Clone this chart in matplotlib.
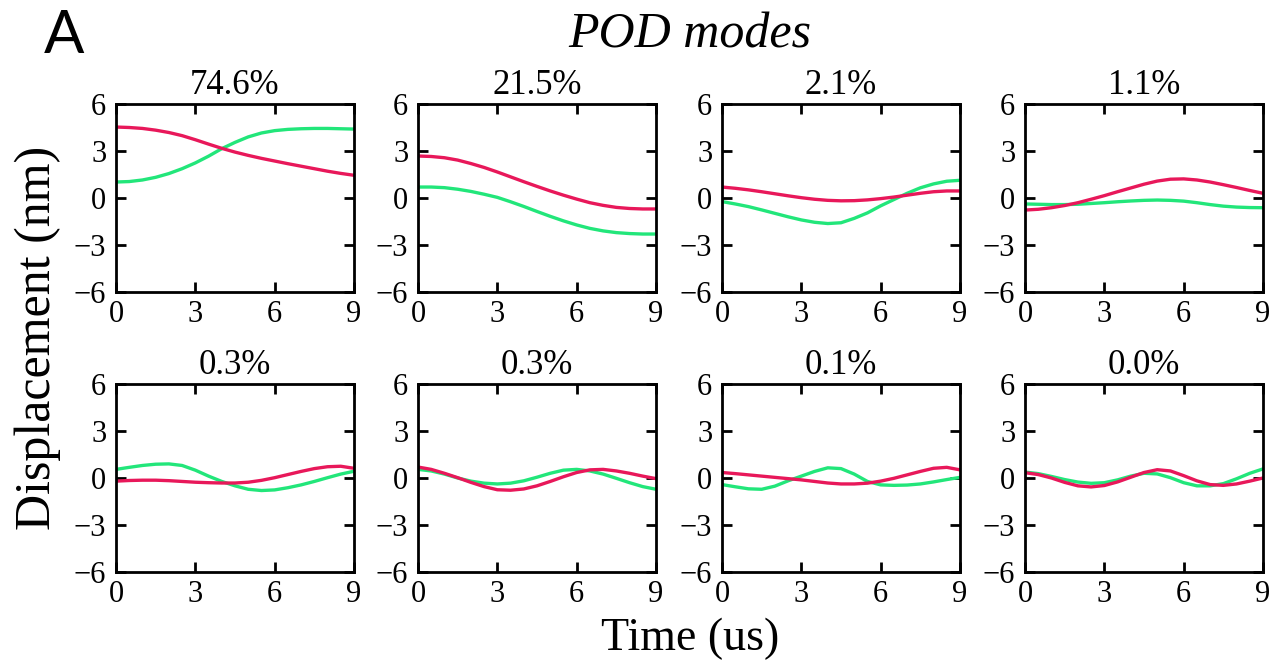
import numpy as np
import matplotlib
matplotlib.use("Agg")
import matplotlib.pyplot as plt

# Time samples (us)
time_us = [0.0, 0.5, 1.0, 1.5, 2.0, 2.5, 3.0, 3.5, 4.0, 4.5,
           5.0, 5.5, 6.0, 6.5, 7.0, 7.5, 8.0, 8.5, 9.0]

# Energy share of each POD mode
mode_labels = ["74.6%", "21.5%", "2.1%", "1.1%", "0.3%", "0.3%", "0.1%", "0.0%"]

# Mode shapes, displacement in nm (green and red components)
mode1_green = [1.02, 1.05, 1.15, 1.32, 1.56, 1.87, 2.24, 2.67, 3.15, 3.55,
               3.90, 4.15, 4.30, 4.38, 4.42, 4.44, 4.44, 4.42, 4.40]
mode1_red = [4.53, 4.50, 4.44, 4.33, 4.18, 3.98, 3.72, 3.44, 3.17, 2.93,
             2.72, 2.53, 2.36, 2.19, 2.03, 1.87, 1.71, 1.57, 1.45]

mode2_green = [0.70, 0.70, 0.66, 0.56, 0.42, 0.24, 0.04, -0.24, -0.54, -0.86,
               -1.17, -1.46, -1.72, -1.94, -2.10, -2.21, -2.27, -2.30, -2.30]
mode2_red = [2.68, 2.65, 2.57, 2.42, 2.20, 1.95, 1.66, 1.35, 1.04, 0.74,
             0.45, 0.18, -0.07, -0.30, -0.47, -0.60, -0.67, -0.70, -0.70]

mode3_green = [-0.23, -0.38, -0.55, -0.76, -0.98, -1.20, -1.40, -1.55, -1.63, -1.58,
               -1.30, -0.95, -0.50, -0.10, 0.30, 0.65, 0.90, 1.07, 1.13]
mode3_red = [0.70, 0.62, 0.52, 0.40, 0.27, 0.14, 0.02, -0.08, -0.15, -0.18,
             -0.17, -0.12, -0.04, 0.06, 0.18, 0.30, 0.40, 0.45, 0.45]

mode4_green = [-0.38, -0.40, -0.42, -0.42, -0.40, -0.35, -0.30, -0.24, -0.19, -0.15,
               -0.13, -0.15, -0.20, -0.30, -0.42, -0.52, -0.58, -0.61, -0.62]
mode4_red = [-0.77, -0.72, -0.62, -0.48, -0.30, -0.08, 0.15, 0.40, 0.64, 0.88,
             1.08, 1.20, 1.22, 1.15, 1.02, 0.85, 0.67, 0.48, 0.30]

mode5_green = [0.55, 0.68, 0.80, 0.88, 0.90, 0.80, 0.50, 0.12, -0.22, -0.50,
               -0.72, -0.80, -0.76, -0.62, -0.44, -0.22, 0.02, 0.25, 0.43]
mode5_red = [-0.20, -0.16, -0.14, -0.14, -0.17, -0.22, -0.27, -0.30, -0.32, -0.32,
             -0.27, -0.15, 0.02, 0.22, 0.42, 0.60, 0.72, 0.75, 0.62]

mode6_green = [0.55, 0.45, 0.25, 0.00, -0.20, -0.33, -0.38, -0.33, -0.18, 0.05,
               0.30, 0.50, 0.55, 0.45, 0.25, -0.02, -0.30, -0.55, -0.72]
mode6_red = [0.70, 0.55, 0.30, 0.02, -0.28, -0.55, -0.75, -0.78, -0.70, -0.50,
             -0.22, 0.08, 0.35, 0.52, 0.55, 0.45, 0.30, 0.12, -0.04]

mode7_green = [-0.42, -0.56, -0.69, -0.72, -0.52, -0.18, 0.12, 0.42, 0.65, 0.60,
               0.25, -0.22, -0.44, -0.47, -0.45, -0.38, -0.25, -0.10, 0.04]
mode7_red = [0.35, 0.28, 0.20, 0.12, 0.04, -0.04, -0.12, -0.22, -0.32, -0.38,
             -0.38, -0.33, -0.20, -0.02, 0.20, 0.42, 0.62, 0.68, 0.52]

mode8_green = [0.38, 0.28, 0.10, -0.10, -0.26, -0.34, -0.30, -0.12, 0.12, 0.30,
               0.26, 0.02, -0.30, -0.50, -0.50, -0.36, -0.05, 0.30, 0.58]
mode8_red = [0.34, 0.22, 0.00, -0.28, -0.50, -0.57, -0.48, -0.25, 0.05, 0.35,
             0.53, 0.45, 0.15, -0.18, -0.42, -0.47, -0.38, -0.20, 0.00]

green_series = [mode1_green, mode2_green, mode3_green, mode4_green,
                mode5_green, mode6_green, mode7_green, mode8_green]
red_series = [mode1_red, mode2_red, mode3_red, mode4_red,
              mode5_red, mode6_red, mode7_red, mode8_red]

x_ticks = [0, 3, 6, 9]
y_ticks = [-6, -3, 0, 3, 6]

GREEN = "#22E67A"
RED = "#E8185A"
SERIF = ["Liberation Serif", "DejaVu Serif"]

plt.rcParams["font.family"] = SERIF
plt.rcParams["axes.unicode_minus"] = True

W, H = 1284, 663
fig = plt.figure(figsize=(W / 100, H / 100), dpi=100)

col_left = [116, 418, 722, 1025]
row_top = [104, 384]
ax_w, ax_h = 238, 188

for i in range(8):
    r, c = divmod(i, 4)
    left = col_left[c] / W
    bottom = 1 - (row_top[r] + ax_h) / H
    ax = fig.add_axes([left, bottom, ax_w / W, ax_h / H])
    ax.plot(time_us, green_series[i], color=GREEN, lw=2.4, solid_capstyle="round")
    ax.plot(time_us, red_series[i], color=RED, lw=2.4, solid_capstyle="round")
    ax.set_xlim(0, 9)
    ax.set_ylim(-6, 6)
    ax.set_xticks(x_ticks)
    ax.set_yticks(y_ticks)
    ax.tick_params(direction="in", length=7, width=2, top=True, right=True,
                   labelsize=22, colors="black")
    ax.tick_params(axis="x", pad=6)
    ax.tick_params(axis="y", pad=7)
    for sp in ax.spines.values():
        sp.set_linewidth(2)
    ax.set_title(mode_labels[i], fontsize=25, pad=7)

fig.text(690 / W, 1 - 48 / H, "POD modes", ha="center", va="baseline",
         fontsize=36, style="italic", family=SERIF)
fig.text(690 / W, 1 - 650 / H, "Time (us)", ha="center", va="baseline",
         fontsize=33, family=SERIF)
fig.text(38 / W, 1 - 338 / H, "Displacement (nm)", ha="center", va="center",
         rotation=90, fontsize=36, family=SERIF)
fig.text(44 / W, 1 - 53 / H, "A", ha="left", va="baseline",
         fontsize=43, family=["Lato", "DejaVu Sans"])

fig.savefig("out.png", dpi=100, facecolor="white")
